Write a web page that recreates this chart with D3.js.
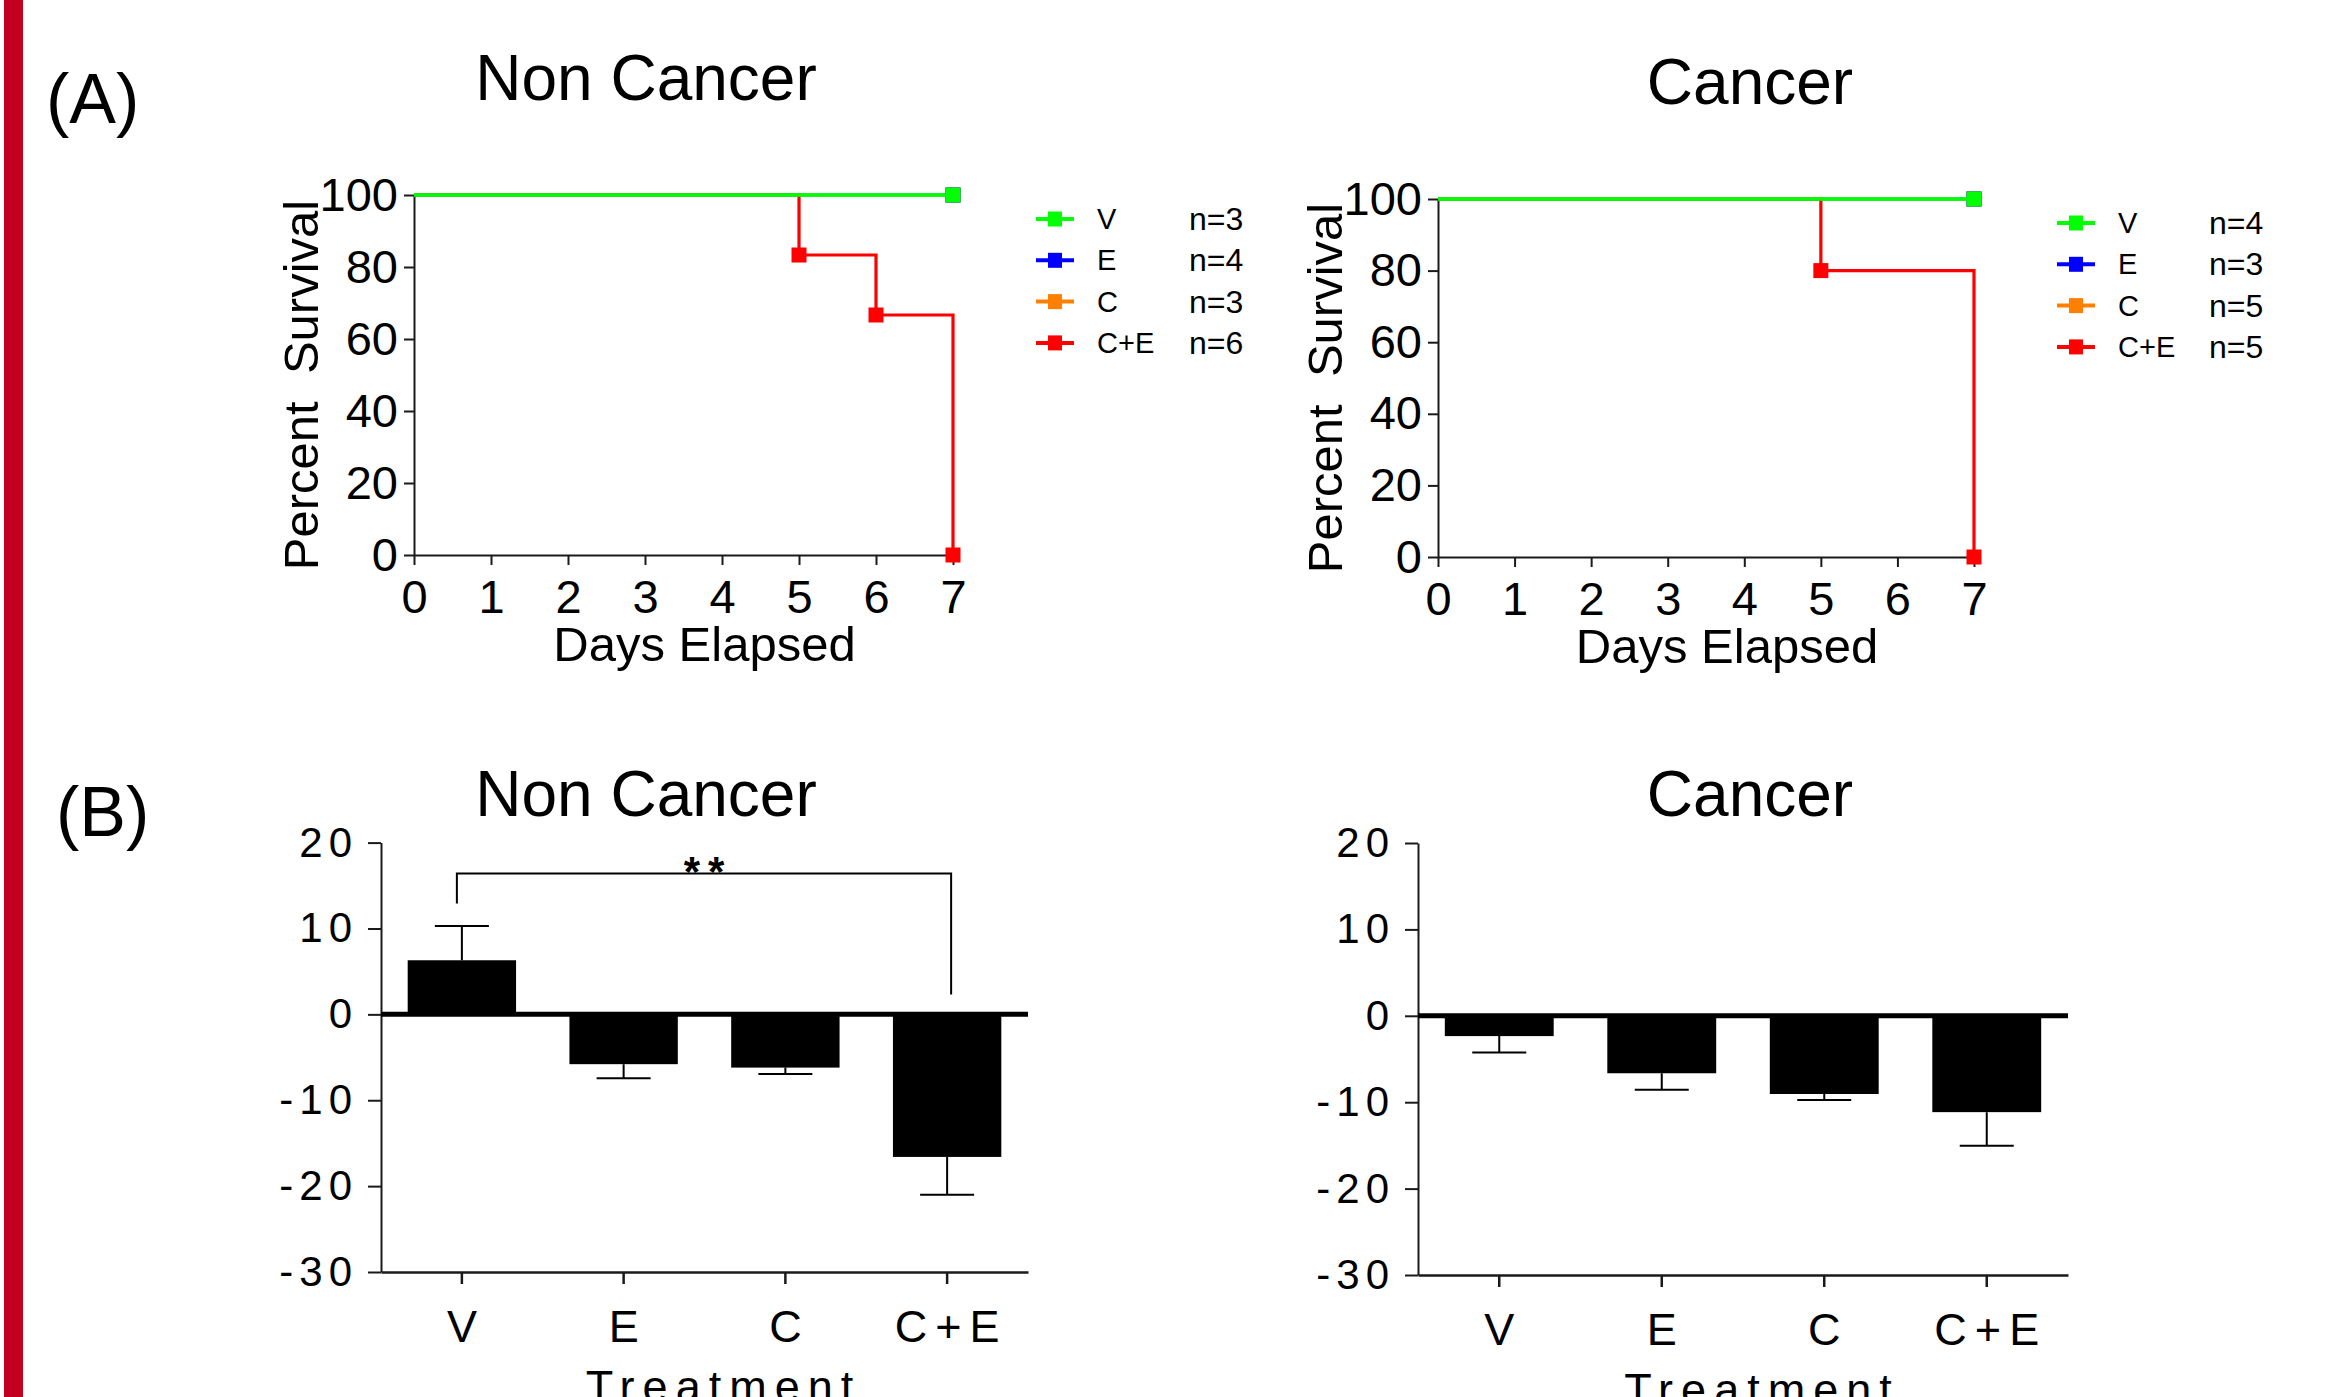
<!DOCTYPE html>
<html>
<head>
<meta charset="utf-8">
<script src="https://cdn.jsdelivr.net/npm/d3@7"></script>
<style>
  body { margin: 0; background: #fff; }
  svg text { font-family: "Liberation Sans", Arial, sans-serif; fill: #000; }
</style>
</head>
<body>
<div id="figure"></div>
<script>
// 1: DATA
const groups = ["V", "E", "C", "C+E"];
const groupColors = ["#00ff00", "#0000ff", "#ff8000", "#ff0000"];
const dayTicks = [0, 1, 2, 3, 4, 5, 6, 7];
const survivalTicks = [0, 20, 40, 60, 80, 100];

// Kaplan-Meier steps, [day, percent survival]
const nonCancerV = [[0, 100], [7, 100]];
const nonCancerE = [[0, 100], [7, 100]];
const nonCancerC = [[0, 100], [7, 100]];
const nonCancerCE = [[0, 100], [5, 83.33], [6, 66.67], [7, 0]];
const nonCancerN = [3, 4, 3, 6];

const cancerV = [[0, 100], [7, 100]];
const cancerE = [[0, 100], [7, 100]];
const cancerC = [[0, 100], [7, 100]];
const cancerCE = [[0, 100], [5, 80], [7, 0]];
const cancerN = [4, 3, 5, 5];

// bar panels
const treatments = ["V", "E", "C", "C+E"];
const changeTicks = [-30, -20, -10, 0, 10, 20];
const nonCancerMean = [6.3, -5.8, -6.2, -16.6];
const nonCancerSem = [4.0, 1.65, 0.75, 4.4];
const cancerMean = [-2.35, -6.65, -9.05, -11.15];
const cancerSem = [1.9, 1.9, 0.7, 3.9];

// significance bracket V vs C+E: top, left leg end, right leg end
const sigPair = ["V", "C+E"];
const sigLevels = [16.4, 12.9, 2.3];
const sigLabel = "**";

// 2: SVG
const W = 2333, H = 1397;
const svg = d3.select("#figure").append("svg")
    .attr("width", W)
    .attr("height", H);

svg.append("rect").attr("width", W).attr("height", H).attr("fill", "#fff");

// red side bar
svg.append("rect")
    .attr("x", 4).attr("y", 0)
    .attr("width", 19).attr("height", H)
    .attr("fill", "#c3001e");

// panel letters
svg.append("text").attr("x", 46).attr("y", 123)
    .style("font-size", "70px").text("(A)");
svg.append("text").attr("x", 56).attr("y", 836)
    .style("font-size", "70px").text("(B)");

// titles
[["Non Cancer", 646, 100], ["Cancer", 1750, 104], ["Non Cancer", 646, 816], ["Cancer", 1750, 816]]
    .forEach(([t, x, y]) => {
        svg.append("text")
            .attr("x", x).attr("y", y)
            .attr("text-anchor", "middle")
            .style("font-size", "64px")
            .text(t);
    });

function styleAxis(g, width) {
    g.selectAll("path, line").attr("stroke", "#1a1a1a").attr("stroke-width", width);
}

// plain hyphen minus like the original figure
const plain = d => String(d);

// 3: SURVIVAL PANELS
function drawSurvival(o) {
    const x = d3.scaleLinear().domain([0, 7]).range(o.xRange);
    const y = d3.scaleLinear().domain([0, 100]).range(o.yRange);
    const g = svg.append("g");

    const xAxis = g.append("g")
        .attr("transform", `translate(0,${o.yRange[0]})`)
        .call(d3.axisBottom(x).tickValues(dayTicks).tickFormat(plain)
            .tickSize(10).tickSizeOuter(0).tickPadding(15));
    xAxis.selectAll("text").style("font-size", "47px").attr("font-family", null);
    styleAxis(xAxis, 2);

    const yAxis = g.append("g")
        .attr("transform", `translate(${o.xRange[0]},0)`)
        .call(d3.axisLeft(y).tickValues(survivalTicks).tickFormat(plain)
            .tickSize(10).tickSizeOuter(0).tickPadding(6));
    yAxis.selectAll("text").style("font-size", "47px").attr("font-family", null);
    styleAxis(yAxis, 2);

    // step lines, V drawn last so it sits on top
    const line = d3.line()
        .x(d => x(d[0]))
        .y(d => y(d[1]))
        .curve(d3.curveStepAfter);

    const order = [3, 2, 1, 0];
    order.forEach(i => {
        const s = o.series[i];
        g.append("path")
            .datum(s)
            .attr("d", line)
            .attr("fill", "none")
            .attr("stroke", groupColors[i])
            .attr("stroke-width", i === 3 ? 3.2 : 2.6);
        g.selectAll(null)
            .data(s.slice(1))
            .enter()
            .append("rect")
            .attr("x", d => x(d[0]) - 7.5)
            .attr("y", d => y(d[1]) - 7.5)
            .attr("width", 15)
            .attr("height", 15)
            .attr("fill", groupColors[i]);
    });
    // re-stroke the green line over the red start segment
    g.append("path")
        .datum(o.series[0])
        .attr("d", line)
        .attr("fill", "none")
        .attr("stroke", groupColors[0])
        .attr("stroke-width", 3.4);

    // axis labels
    g.append("text")
        .attr("x", (o.xRange[0] + o.xRange[1]) / 2 + 21)
        .attr("y", o.yRange[0] + 106)
        .attr("text-anchor", "middle")
        .style("font-size", "49px")
        .text("Days Elapsed");

    g.append("text")
        .attr("transform", `translate(${o.xRange[0] - 96},${(o.yRange[0] + o.yRange[1]) / 2 + 10}) rotate(-90)`)
        .attr("text-anchor", "middle")
        .style("font-size", "49px")
        .style("white-space", "pre")
        .text("Percent  Survival");

    // legend
    const leg = g.append("g").attr("transform", `translate(${o.legend[0]},${o.legend[1]})`);
    groups.forEach((name, i) => {
        const row = leg.append("g").attr("transform", `translate(0,${i * 41.3})`);
        row.append("line")
            .attr("x1", 0).attr("x2", 38)
            .attr("stroke", groupColors[i]).attr("stroke-width", 4);
        row.append("rect")
            .attr("x", 12).attr("y", -7.5)
            .attr("width", 14).attr("height", 15)
            .attr("fill", groupColors[i]);
        row.append("text")
            .attr("x", 61).attr("y", 10)
            .style("font-size", "29px")
            .text(name);
        row.append("text")
            .attr("x", o.nX).attr("y", 11)
            .style("font-size", "32px")
            .text("n=" + o.n[i]);
    });
}

drawSurvival({
    xRange: [414, 953], yRange: [555, 195],
    series: [nonCancerV, nonCancerE, nonCancerC, nonCancerCE],
    n: nonCancerN, legend: [1036, 219], nX: 153
});
drawSurvival({
    xRange: [1438, 1974], yRange: [557, 199],
    series: [cancerV, cancerE, cancerC, cancerCE],
    n: cancerN, legend: [2057, 223], nX: 152
});

// 4: BAR PANELS
function drawBars(o) {
    const x = d3.scaleBand().domain(treatments).range(o.xRange)
        .paddingInner(0.33).paddingOuter(0.165);
    const y = d3.scaleLinear().domain([-30, 20]).range(o.yRange);
    const g = svg.append("g");

    const bars = treatments.map((t, i) => ({ t, mean: o.mean[i], sem: o.sem[i] }));

    g.selectAll(".bar")
        .data(bars)
        .enter()
        .append("rect")
        .attr("class", "bar")
        .attr("x", d => x(d.t))
        .attr("width", x.bandwidth())
        .attr("y", d => y(Math.max(0, d.mean)))
        .attr("height", d => Math.abs(y(d.mean) - y(0)))
        .attr("fill", "#000");

    // error bars away from zero
    const errEnd = d => d.mean >= 0 ? d.mean + d.sem : d.mean - d.sem;
    const cx = d => x(d.t) + x.bandwidth() / 2;
    g.selectAll(".err")
        .data(bars)
        .enter()
        .append("path")
        .attr("d", d => `M${cx(d)},${y(d.mean)}V${y(errEnd(d))}M${cx(d) - 27},${y(errEnd(d))}H${cx(d) + 27}`)
        .attr("fill", "none")
        .attr("stroke", "#000")
        .attr("stroke-width", 2);

    const yAxis = g.append("g")
        .attr("transform", `translate(${o.xRange[0]},0)`)
        .call(d3.axisLeft(y).tickValues(changeTicks).tickFormat(plain)
            .tickSize(13).tickSizeOuter(0).tickPadding(10));
    yAxis.selectAll("text").style("font-size", "42px").style("letter-spacing", "6px").attr("font-family", null);
    styleAxis(yAxis, 2);

    const xAxis = g.append("g")
        .attr("transform", `translate(0,${o.yRange[0]})`)
        .call(d3.axisBottom(x).tickSize(12).tickSizeOuter(0).tickPadding(26));
    xAxis.selectAll("text").style("font-size", "45px").style("letter-spacing", "8px")
        .attr("dx", "4px").attr("font-family", null);
    styleAxis(xAxis, 2.5);

    // baseline at zero
    g.append("line")
        .attr("x1", o.xRange[0]).attr("x2", o.xRange[1])
        .attr("y1", y(0)).attr("y2", y(0))
        .attr("stroke", "#000").attr("stroke-width", 5);

    g.append("text")
        .attr("x", (o.xRange[0] + o.xRange[1]) / 2 + 19)
        .attr("y", o.yRange[0] + 130)
        .attr("text-anchor", "middle")
        .style("font-size", "45px")
        .style("letter-spacing", "8px")
        .text("Treatment");

    if (o.sig) {
        const x1 = x(sigPair[0]) + x.bandwidth() / 2 - 5;
        const x2 = x(sigPair[1]) + x.bandwidth() / 2 + 4;
        g.append("path")
            .attr("d", `M${x1},${y(sigLevels[1])}V${y(sigLevels[0])}H${x2}V${y(sigLevels[2])}`)
            .attr("fill", "none")
            .attr("stroke", "#000")
            .attr("stroke-width", 2);
        g.append("text")
            .attr("x", (x1 + x2) / 2 + 4)
            .attr("y", y(sigLevels[0]) + 12)
            .attr("text-anchor", "middle")
            .style("font-size", "42px")
            .style("font-weight", "bold")
            .style("letter-spacing", "8px")
            .text(sigLabel);
    }
}

drawBars({ xRange: [381, 1028], yRange: [1272, 842.6], mean: nonCancerMean, sem: nonCancerSem, sig: true });
drawBars({ xRange: [1418, 2068], yRange: [1275, 843], mean: cancerMean, sem: cancerSem, sig: false });
</script>
</body>
</html>
